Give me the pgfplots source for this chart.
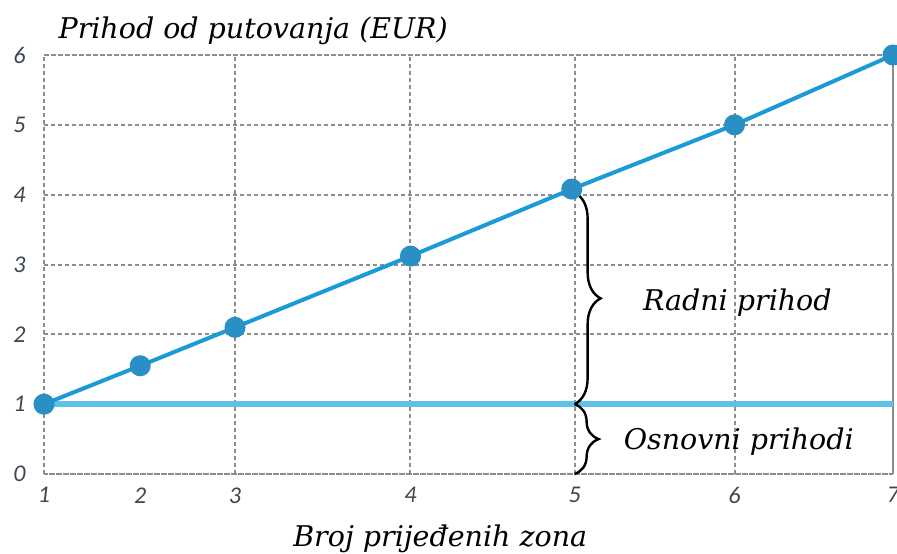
\documentclass[border=0pt]{standalone}
\usepackage{pgfplots}
\pgfplotsset{compat=1.18}
\usepackage{fontspec}
\setmainfont{DejaVu Serif}
\newfontfamily\tickfont{Carlito}
\usetikzlibrary{decorations.pathreplacing,calc}
\definecolor{mainblue}{HTML}{1A9AD6}
\definecolor{markblue}{HTML}{2A8FC4}
\definecolor{baseblue}{HTML}{5EC2E8}
\definecolor{gridgray}{HTML}{8C8C8C}
\definecolor{ticktext}{HTML}{3E4650}
\begin{document}
\begin{tikzpicture}
\begin{axis}[
  width=849pt, height=419pt, scale only axis,
  xmin=1, xmax=7, ymin=0, ymax=6,
  xtick={1,2.35,3.59,4.75,5.88,7}, xticklabels={1,3,4,5,6,7},
  extra x ticks={1.68}, extra x tick labels={2}, extra x tick style={grid=none},
  ytick={0,1,2,3,4,5,6},
  grid=major,
  major grid style={gridgray, line width=2pt, dash pattern=on 4pt off 3pt},
  axis line style={gridgray, line width=2pt, dash pattern=on 4pt off 3pt},
  tick style={draw=none},
  /pgf/number format/assume math mode=true,
  ticklabel style={font=\tickfont\itshape\fontsize{24}{24}\selectfont, text=ticktext},
  xticklabel style={yshift=-10pt},
  yticklabel style={xshift=-15pt},
  clip=false,
]
\addplot[baseblue, line width=5.5pt] coordinates {(1,1) (7,1)};
\addplot[mainblue, line width=4pt, mark=*, mark size=8.5pt,
  mark options={fill=markblue, draw=markblue, solid}]
  coordinates {(1,1) (1.68,1.55) (2.35,2.1) (3.59,3.12) (4.73,4.08) (5.88,5) (7,6)};
\draw[decorate, decoration={brace, amplitude=26pt}, line width=2.4pt]
  (axis cs:4.75,4.03) -- (axis cs:4.75,1);
\draw[decorate, decoration={brace, amplitude=24pt}, line width=2.4pt]
  (axis cs:4.75,1) -- (axis cs:4.75,0);
\node[font=\itshape\fontsize{28.5}{28.5}\selectfont] at (axis cs:5.90,2.457) {Radni prihod};
\node[font=\itshape\fontsize{28.5}{28.5}\selectfont] at (axis cs:5.91,0.457) {Osnovni prihodi};
\node[font=\itshape\fontsize{28.5}{28.5}\selectfont, anchor=base west] at (axis cs:1.078,6.243) {Prihod od putovanja (EUR)};
\node[font=\itshape\fontsize{28.5}{28.5}\selectfont, anchor=base] at (axis cs:3.80,-1.043) {Broj prijeđenih zona};
\end{axis}
\pgfresetboundingbox
\path[use as bounding box] ($(current axis.south west)+(-44pt,-79pt)$) rectangle ($(current axis.north east)+(4pt,55pt)$);
\end{tikzpicture}
\end{document}
